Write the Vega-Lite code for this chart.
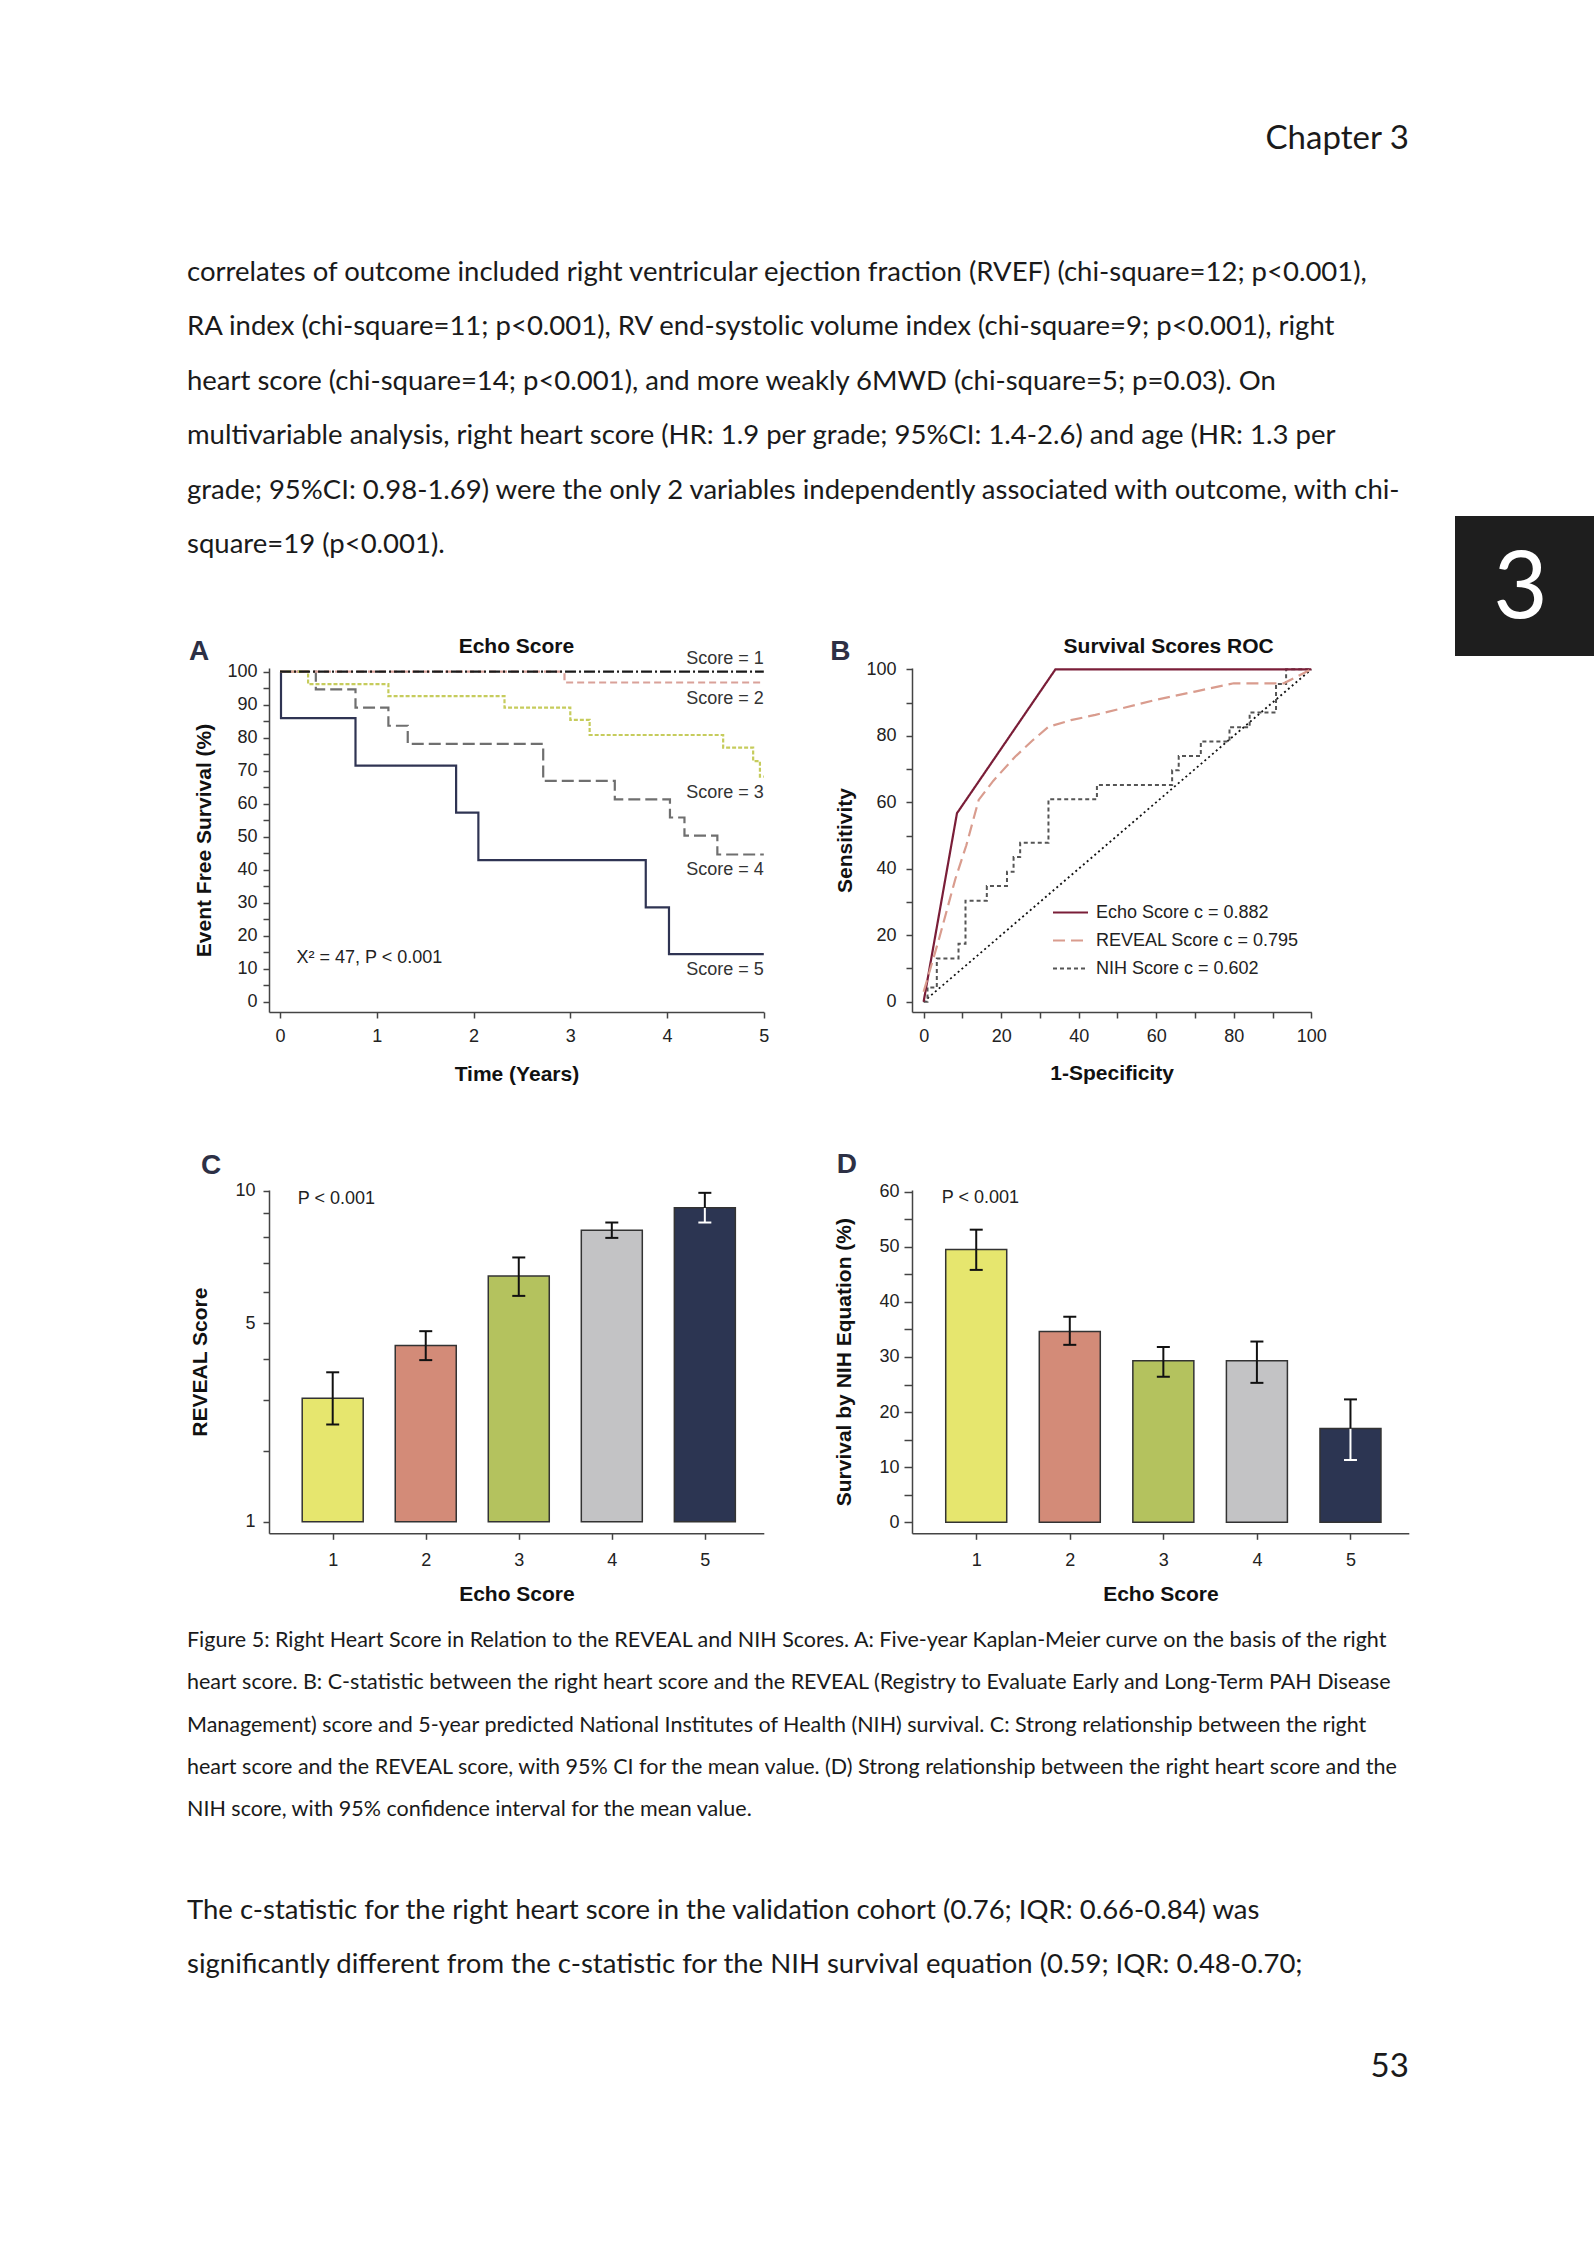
{
  "$schema": "https://vega.github.io/schema/vega-lite/v6.json",
  "padding": 0,
  "background": "white",
  "spacing": 0,
  "bounds": "flush",
  "columns": 7,
  "align": "each",
  "resolve": {"scale": {"color": "independent", "strokeDash": "independent", "fill": "independent"}, "legend": {"color": "independent", "strokeDash": "independent", "fill": "independent"}},
  "config": {
    "view": {"stroke": null},
    "concat": {"spacing": 0},
    "axis": {"labelFont": "Liberation Sans", "labelFontSize": 18, "labelColor": "#222", "titleFont": "Liberation Sans", "titleFontSize": 21, "titleFontWeight": "bold", "titleColor": "#111", "domainColor": "#444", "domainWidth": 1.5, "tickColor": "#444", "tickWidth": 1.5, "tickSize": 6, "grid": false, "labelFlush": false, "labelOverlap": false},
    "title": {"font": "Liberation Sans", "fontSize": 21, "fontWeight": "bold", "color": "#111", "anchor": "middle"},
    "text": {"font": "Liberation Sans", "color": "#222"}
  },
  "datasets": {
    "blank": [{}],
    "km": [
      {"score": 5, "t": 0, "s": 100}, {"score": 5, "t": 0.01, "s": 85.9}, {"score": 5, "t": 0.78, "s": 71.5}, {"score": 5, "t": 1.82, "s": 57.3}, {"score": 5, "t": 2.05, "s": 42.9}, {"score": 5, "t": 3.78, "s": 28.6}, {"score": 5, "t": 4.02, "s": 14.4}, {"score": 5, "t": 5, "s": 14.4},
      {"score": 4, "t": 0, "s": 100}, {"score": 4, "t": 0.37, "s": 94.6}, {"score": 4, "t": 0.78, "s": 89.1}, {"score": 4, "t": 1.12, "s": 83.6}, {"score": 4, "t": 1.32, "s": 78.1}, {"score": 4, "t": 2.72, "s": 66.9}, {"score": 4, "t": 3.46, "s": 61.3}, {"score": 4, "t": 4.03, "s": 55.8}, {"score": 4, "t": 4.18, "s": 50.3}, {"score": 4, "t": 4.52, "s": 44.6}, {"score": 4, "t": 5, "s": 44.6},
      {"score": 3, "t": 0, "s": 100}, {"score": 3, "t": 0.29, "s": 96.2}, {"score": 3, "t": 1.12, "s": 92.6}, {"score": 3, "t": 2.32, "s": 89.1}, {"score": 3, "t": 3.0, "s": 85.4}, {"score": 3, "t": 3.2, "s": 80.8}, {"score": 3, "t": 4.58, "s": 77.0}, {"score": 3, "t": 4.89, "s": 72.9}, {"score": 3, "t": 4.96, "s": 68.2}, {"score": 3, "t": 5, "s": 68.2},
      {"score": 2, "t": 0, "s": 100}, {"score": 2, "t": 2.94, "s": 96.7}, {"score": 2, "t": 5, "s": 96.7},
      {"score": 1, "t": 0, "s": 100}, {"score": 1, "t": 5, "s": 100}
    ],
    "roc": [
      {"series": "Echo Score c = 0.882", "x": 0, "y": 0}, {"series": "Echo Score c = 0.882", "x": 8.6, "y": 56.7}, {"series": "Echo Score c = 0.882", "x": 34, "y": 100}, {"series": "Echo Score c = 0.882", "x": 100, "y": 100},
      {"series": "REVEAL Score c = 0.795", "x": 0, "y": 3}, {"series": "REVEAL Score c = 0.795", "x": 4, "y": 19}, {"series": "REVEAL Score c = 0.795", "x": 8.2, "y": 37}, {"series": "REVEAL Score c = 0.795", "x": 11, "y": 47}, {"series": "REVEAL Score c = 0.795", "x": 14.2, "y": 60.7}, {"series": "REVEAL Score c = 0.795", "x": 18, "y": 66.5}, {"series": "REVEAL Score c = 0.795", "x": 23.6, "y": 73.7}, {"series": "REVEAL Score c = 0.795", "x": 28, "y": 78.5}, {"series": "REVEAL Score c = 0.795", "x": 32.2, "y": 82.7}, {"series": "REVEAL Score c = 0.795", "x": 38, "y": 84.7}, {"series": "REVEAL Score c = 0.795", "x": 44.3, "y": 86.3}, {"series": "REVEAL Score c = 0.795", "x": 52, "y": 88.5}, {"series": "REVEAL Score c = 0.795", "x": 59.8, "y": 90.8}, {"series": "REVEAL Score c = 0.795", "x": 70, "y": 93.3}, {"series": "REVEAL Score c = 0.795", "x": 80, "y": 95.8}, {"series": "REVEAL Score c = 0.795", "x": 92.9, "y": 95.8}, {"series": "REVEAL Score c = 0.795", "x": 100, "y": 100},
      {"series": "NIH Score c = 0.602", "x": 0, "y": 0}, {"series": "NIH Score c = 0.602", "x": 1, "y": 4.3}, {"series": "NIH Score c = 0.602", "x": 3.4, "y": 13}, {"series": "NIH Score c = 0.602", "x": 9, "y": 17.4}, {"series": "NIH Score c = 0.602", "x": 10.8, "y": 30.4}, {"series": "NIH Score c = 0.602", "x": 16.3, "y": 34.8}, {"series": "NIH Score c = 0.602", "x": 21.5, "y": 39.1}, {"series": "NIH Score c = 0.602", "x": 23.2, "y": 43.5}, {"series": "NIH Score c = 0.602", "x": 24.9, "y": 47.8}, {"series": "NIH Score c = 0.602", "x": 32.2, "y": 60.9}, {"series": "NIH Score c = 0.602", "x": 44.7, "y": 65.2}, {"series": "NIH Score c = 0.602", "x": 64.1, "y": 69.6}, {"series": "NIH Score c = 0.602", "x": 65.8, "y": 73.9}, {"series": "NIH Score c = 0.602", "x": 71.5, "y": 78.3}, {"series": "NIH Score c = 0.602", "x": 78.9, "y": 82.6}, {"series": "NIH Score c = 0.602", "x": 84.1, "y": 87}, {"series": "NIH Score c = 0.602", "x": 90.9, "y": 95.6}, {"series": "NIH Score c = 0.602", "x": 93.5, "y": 100}, {"series": "NIH Score c = 0.602", "x": 100, "y": 100}
    ],
    "reveal": [
      {"score": 1, "mean": 3.04, "lo": 2.49, "hi": 3.65},
      {"score": 2, "mean": 4.35, "lo": 3.96, "hi": 4.76},
      {"score": 3, "mean": 6.54, "lo": 5.86, "hi": 7.22},
      {"score": 4, "mean": 8.29, "lo": 7.98, "hi": 8.61},
      {"score": 5, "mean": 9.24, "lo": 8.61, "hi": 9.91}
    ],
    "nih": [
      {"score": 1, "mean": 49.5, "lo": 45.8, "hi": 53.1},
      {"score": 2, "mean": 34.6, "lo": 32.2, "hi": 37.3},
      {"score": 3, "mean": 29.3, "lo": 26.4, "hi": 31.8},
      {"score": 4, "mean": 29.3, "lo": 25.3, "hi": 32.8},
      {"score": 5, "mean": 17.0, "lo": 11.3, "hi": 22.3}
    ]
  },
  "concat": [
    {"width": 186.5, "height": 516, "data": {"name": "blank"}, "mark": "text", "encoding": {"text": {"value": ""}}},
    {
      "width": 81.8, "height": 516,
      "data": {"values": [
        {"line": 1, "text": "correlates of outcome included right ventricular ejection fraction (RVEF) (chi-square=12; p<0.001),"},
        {"line": 2, "text": "RA index (chi-square=11; p<0.001), RV end-systolic volume index (chi-square=9; p<0.001), right"},
        {"line": 3, "text": "heart score (chi-square=14; p<0.001), and more weakly 6MWD (chi-square=5; p=0.03). On"},
        {"line": 4, "text": "multivariable analysis, right heart score (HR: 1.9 per grade; 95%CI: 1.4-2.6) and age (HR: 1.3 per"},
        {"line": 5, "text": "grade; 95%CI: 0.98-1.69) were the only 2 variables independently associated with outcome, with chi-"},
        {"line": 6, "text": "square=19 (p<0.001)."}
      ]},
      "mark": {"type": "text", "align": "left", "baseline": "middle", "font": "Lato", "fontSize": 27.5, "color": "#1a1a1a"},
      "encoding": {
        "x": {"datum": 0, "type": "quantitative", "scale": {"domain": [0, 1], "nice": false, "zero": false}, "axis": null},
        "y": {"field": "line", "type": "quantitative", "scale": {"domain": [1, 6], "range": [272.7, 545.3], "nice": false, "zero": false}, "axis": null},
        "text": {"field": "text"}
      }
    },
    {"width": 494.8, "height": 516, "data": {"name": "blank"}, "mark": "text", "encoding": {"text": {"value": ""}}},
    {"width": 147.2, "height": 516, "data": {"name": "blank"}, "mark": "text", "encoding": {"text": {"value": ""}}},
    {
      "width": 496.8, "height": 516,
      "data": {"values": [{"text": "Chapter 3"}]},
      "mark": {"type": "text", "align": "right", "baseline": "middle", "font": "Lato", "fontSize": 33, "color": "#1a1a1a"},
      "encoding": {
        "x": {"datum": 1, "type": "quantitative", "scale": {"domain": [0, 1], "nice": false, "zero": false}, "axis": null},
        "y": {"datum": -1.45, "type": "quantitative", "scale": {"domain": [1, 6], "range": [272.7, 545.3], "nice": false, "zero": false}, "axis": null},
        "text": {"field": "text"}
      }
    },
    {"width": 45.9, "height": 516, "data": {"name": "blank"}, "mark": "text", "encoding": {"text": {"value": ""}}},
    {"width": 141, "height": 516, "data": {"name": "blank"}, "mark": "text", "encoding": {"text": {"value": ""}}},

    {"width": 186.5, "height": 140, "data": {"name": "blank"}, "mark": "text", "encoding": {"text": {"value": ""}}},
    {"width": 81.8, "height": 140, "data": {"name": "blank"}, "mark": "text", "encoding": {"text": {"value": ""}}},
    {"width": 494.8, "height": 140, "data": {"name": "blank"}, "mark": "text", "encoding": {"text": {"value": ""}}},
    {"width": 147.2, "height": 140, "data": {"name": "blank"}, "mark": "text", "encoding": {"text": {"value": ""}}},
    {"width": 496.8, "height": 140, "data": {"name": "blank"}, "mark": "text", "encoding": {"text": {"value": ""}}},
    {"width": 45.9, "height": 140, "data": {"name": "blank"}, "mark": "text", "encoding": {"text": {"value": ""}}},
    {
      "width": 141, "height": 140,
      "view": {"fill": "#1e1e1e", "stroke": null},
      "data": {"values": [{"text": "3"}]},
      "mark": {"type": "text", "font": "Lato", "fontSize": 94, "color": "white", "align": "center", "baseline": "middle", "dx": -5, "dy": 4},
      "encoding": {"text": {"field": "text"}}
    },

    {"width": 186.5, "height": 12, "data": {"name": "blank"}, "mark": "text", "encoding": {"text": {"value": ""}}},
    {"width": 81.8, "height": 12, "data": {"name": "blank"}, "mark": "text", "encoding": {"text": {"value": ""}}},
    {"width": 494.8, "height": 12, "data": {"name": "blank"}, "mark": "text", "encoding": {"text": {"value": ""}}},
    {"width": 147.2, "height": 12, "data": {"name": "blank"}, "mark": "text", "encoding": {"text": {"value": ""}}},
    {"width": 496.8, "height": 12, "data": {"name": "blank"}, "mark": "text", "encoding": {"text": {"value": ""}}},
    {"width": 45.9, "height": 12, "data": {"name": "blank"}, "mark": "text", "encoding": {"text": {"value": ""}}},
    {"width": 141, "height": 12, "data": {"name": "blank"}, "mark": "text", "encoding": {"text": {"value": ""}}},

    {"width": 186.5, "height": 344, "data": {"name": "blank"}, "mark": "text", "encoding": {"text": {"value": ""}}},
    {"width": 81.8, "height": 344, "data": {"name": "blank"}, "mark": "text", "encoding": {"text": {"value": ""}}},
    {
      "width": 494.8, "height": 344,
      "title": {"text": "Echo Score", "offset": 11, "dy": 30},
      "layer": [
        {
          "data": {"name": "km"},
          "mark": {"type": "line", "interpolate": "step-after", "strokeWidth": 2.2},
          "encoding": {
            "x": {"field": "t", "type": "quantitative", "scale": {"domain": [-0.114, 5], "nice": false, "zero": false}, "axis": {"title": "Time (Years)", "values": [0, 1, 2, 3, 4, 5], "tickCount": 50, "format": "d", "labelPadding": 9, "titlePadding": 18, "labelOverlap": false, "labelFlush": false}},
            "y": {"field": "s", "type": "quantitative", "scale": {"domain": [-3.12, 101.1], "nice": false, "zero": false}, "axis": {"title": "Event Free Survival (%)", "values": [0, 5, 10, 15, 20, 25, 30, 35, 40, 45, 50, 55, 60, 65, 70, 75, 80, 85, 90, 95, 100], "tickCount": 50, "format": "d", "labelExpr": "datum.value % 10 === 0 ? datum.label : ''", "labelPadding": 6, "titlePadding": 12, "labelOverlap": false}},
            "color": {"field": "score", "type": "nominal", "scale": {"domain": [1, 2, 3, 4, 5], "range": ["#1a1a1a", "#d9a199", "#c6cc5c", "#6f6f6f", "#2f3453"]}, "legend": null},
            "strokeDash": {"field": "score", "type": "nominal", "scale": {"domain": [1, 2, 3, 4, 5], "range": [[11, 3, 2, 3], [7, 4], [4, 2], [12, 5], [1, 0]]}, "legend": null}
          }
        },
        {
          "data": {"name": "km"},
          "transform": [{"filter": "datum.t == 5 && datum.score != 1"}, {"calculate": "'Score = ' + datum.score", "as": "lab"}],
          "mark": {"type": "text", "align": "right", "baseline": "middle", "dy": 16, "fontSize": 18, "color": "#333"},
          "encoding": {"x": {"field": "t", "type": "quantitative"}, "y": {"field": "s", "type": "quantitative"}, "text": {"field": "lab"}}
        },
        {
          "data": {"name": "km"},
          "transform": [{"filter": "datum.t == 5 && datum.score == 1"}, {"calculate": "'Score = ' + datum.score", "as": "lab"}],
          "mark": {"type": "text", "align": "right", "baseline": "middle", "dy": -13, "fontSize": 18, "color": "#333"},
          "encoding": {"x": {"field": "t", "type": "quantitative"}, "y": {"field": "s", "type": "quantitative"}, "text": {"field": "lab"}}
        },
        {
          "data": {"values": [{"text": "X² = 47, P < 0.001"}]},
          "mark": {"type": "text", "align": "left", "baseline": "middle", "fontSize": 18, "color": "#222"},
          "encoding": {"x": {"datum": 0.17, "type": "quantitative"}, "y": {"datum": 13.1, "type": "quantitative"}, "text": {"field": "text"}}
        },
        {
          "data": {"values": [{"text": "A"}]},
          "mark": {"type": "text", "align": "center", "baseline": "middle", "fontSize": 28, "fontWeight": "bold", "color": "#2d3045"},
          "encoding": {"x": {"datum": -0.836, "type": "quantitative"}, "y": {"datum": 106, "type": "quantitative"}, "text": {"field": "text"}}
        }
      ]
    },
    {"width": 147.2, "height": 344, "data": {"name": "blank"}, "mark": "text", "encoding": {"text": {"value": ""}}},
    {
      "width": 399.3, "height": 344,
      "title": {"text": "Survival Scores ROC", "offset": 11, "dx": 57, "dy": 30},
      "layer": [
        {
          "data": {"values": [{"x": 0, "y": 0}, {"x": 100, "y": 100}]},
          "mark": {"type": "line", "color": "#111", "strokeDash": [2, 3], "strokeWidth": 1.8},
          "encoding": {
            "x": {"field": "x", "type": "quantitative", "scale": {"domain": [-3, 100], "nice": false, "zero": false}, "axis": {"title": "1-Specificity", "values": [0, 10, 20, 30, 40, 50, 60, 70, 80, 90, 100], "tickCount": 50, "format": "d", "labelExpr": "datum.value % 20 === 0 ? datum.label : ''", "labelPadding": 9, "titlePadding": 17, "labelOverlap": false, "labelFlush": false}},
            "y": {"field": "y", "type": "quantitative", "scale": {"domain": [-3.1, 100.4], "nice": false, "zero": false}, "axis": {"title": "Sensitivity", "values": [0, 10, 20, 30, 40, 50, 60, 70, 80, 90, 100], "tickCount": 50, "format": "d", "labelExpr": "datum.value % 20 === 0 ? datum.label : ''", "labelPadding": 10, "titlePadding": 10, "labelOverlap": false}}
          }
        },
        {
          "data": {"name": "roc"},
          "transform": [{"filter": "datum.series == 'NIH Score c = 0.602'"}],
          "mark": {"type": "line", "interpolate": "step-after", "strokeWidth": 2},
          "encoding": {
            "x": {"field": "x", "type": "quantitative"},
            "y": {"field": "y", "type": "quantitative"},
            "color": {"field": "series", "type": "nominal", "scale": {"domain": ["Echo Score c = 0.882", "REVEAL Score c = 0.795", "NIH Score c = 0.602"], "range": ["#7a1e38", "#d99c8e", "#555555"]}, "legend": {"orient": "none", "legendX": 140, "legendY": 226, "title": null, "symbolType": "stroke", "symbolSize": 1225, "symbolStrokeWidth": 2, "labelFontSize": 18, "labelFont": "Liberation Sans", "labelColor": "#222", "labelLimit": 0, "rowPadding": -10.5, "labelOffset": 7, "padding": 0}},
            "strokeDash": {"field": "series", "type": "nominal", "scale": {"domain": ["Echo Score c = 0.882", "REVEAL Score c = 0.795", "NIH Score c = 0.602"], "range": [[1, 0], [12, 6], [4, 3]]}, "legend": {"orient": "none", "legendX": 140, "legendY": 226, "title": null, "symbolType": "stroke", "symbolSize": 1225, "symbolStrokeWidth": 2, "labelFontSize": 18, "labelFont": "Liberation Sans", "labelColor": "#222", "labelLimit": 0, "rowPadding": -10.5, "labelOffset": 7, "padding": 0}}
          }
        },
        {
          "data": {"name": "roc"},
          "transform": [{"filter": "datum.series != 'NIH Score c = 0.602'"}],
          "mark": {"type": "line", "strokeWidth": 2.2},
          "encoding": {
            "x": {"field": "x", "type": "quantitative"},
            "y": {"field": "y", "type": "quantitative"},
            "color": {"field": "series", "type": "nominal"},
            "strokeDash": {"field": "series", "type": "nominal"}
          }
        },
        {
          "data": {"values": [{"text": "B"}]},
          "mark": {"type": "text", "align": "center", "baseline": "middle", "fontSize": 28, "fontWeight": "bold", "color": "#2d3045"},
          "encoding": {"x": {"datum": -21.5, "type": "quantitative"}, "y": {"datum": 105.3, "type": "quantitative"}, "text": {"field": "text"}}
        }
      ]
    },
    {"width": 45.9, "height": 344, "data": {"name": "blank"}, "mark": "text", "encoding": {"text": {"value": ""}}},
    {"width": 141, "height": 344, "data": {"name": "blank"}, "mark": "text", "encoding": {"text": {"value": ""}}},

    {"width": 186.5, "height": 178, "data": {"name": "blank"}, "mark": "text", "encoding": {"text": {"value": ""}}},
    {"width": 81.8, "height": 178, "data": {"name": "blank"}, "mark": "text", "encoding": {"text": {"value": ""}}},
    {"width": 494.8, "height": 178, "data": {"name": "blank"}, "mark": "text", "encoding": {"text": {"value": ""}}},
    {"width": 147.2, "height": 178, "data": {"name": "blank"}, "mark": "text", "encoding": {"text": {"value": ""}}},
    {"width": 496.8, "height": 178, "data": {"name": "blank"}, "mark": "text", "encoding": {"text": {"value": ""}}},
    {"width": 45.9, "height": 178, "data": {"name": "blank"}, "mark": "text", "encoding": {"text": {"value": ""}}},
    {"width": 141, "height": 178, "data": {"name": "blank"}, "mark": "text", "encoding": {"text": {"value": ""}}},

    {"width": 186.5, "height": 343.3, "data": {"name": "blank"}, "mark": "text", "encoding": {"text": {"value": ""}}},
    {"width": 81.8, "height": 343.3, "data": {"name": "blank"}, "mark": "text", "encoding": {"text": {"value": ""}}},
    {
      "width": 494.8, "height": 343.3,
      "data": {"name": "reveal"},
      "layer": [
        {
          "mark": {"type": "bar", "size": 61, "stroke": "#333", "strokeWidth": 1.5},
          "encoding": {
            "x": {"field": "score", "type": "quantitative", "scale": {"domain": [0.369, 5.58], "nice": false, "zero": false}, "axis": {"title": "Echo Score", "values": [1, 2, 3, 4, 5], "tickCount": 50, "format": "d", "labelPadding": 12, "titlePadding": 14, "labelOverlap": false, "labelFlush": false}},
            "y": {"field": "mean", "type": "quantitative", "scale": {"type": "pow", "exponent": 0.39, "domain": [0.874, 10.04], "nice": false, "zero": false}, "axis": {"title": "REVEAL Score", "values": [1, 2, 3, 4, 5, 6, 7, 8, 9, 10], "tickCount": 50, "format": "d", "labelExpr": "datum.value == 1 || datum.value == 5 || datum.value == 10 ? datum.label : ''", "labelPadding": 8, "titlePadding": 24, "labelOverlap": false}},
            "y2": {"datum": 1},
            "fill": {"field": "score", "type": "nominal", "scale": {"domain": [1, 2, 3, 4, 5], "range": ["#e6e66e", "#d38b78", "#b4c25e", "#c3c3c5", "#2c3552"]}, "legend": null}
          }
        },
        {
          "mark": {"type": "rule", "strokeWidth": 2},
          "encoding": {"x": {"field": "score", "type": "quantitative"}, "y": {"field": "lo", "type": "quantitative"}, "y2": {"field": "mean"}, "color": {"condition": {"test": "datum.score == 5", "value": "white"}, "value": "#111"}}
        },
        {
          "mark": {"type": "rule", "strokeWidth": 2, "color": "#111"},
          "encoding": {"x": {"field": "score", "type": "quantitative"}, "y": {"field": "mean", "type": "quantitative"}, "y2": {"field": "hi"}}
        },
        {
          "mark": {"type": "tick", "orient": "horizontal", "size": 13, "thickness": 2, "color": "#111", "opacity": 1},
          "encoding": {"x": {"field": "score", "type": "quantitative"}, "y": {"field": "hi", "type": "quantitative"}}
        },
        {
          "mark": {"type": "tick", "orient": "horizontal", "size": 13, "thickness": 2, "opacity": 1},
          "encoding": {"x": {"field": "score", "type": "quantitative"}, "y": {"field": "lo", "type": "quantitative"}, "color": {"condition": {"test": "datum.score == 5", "value": "white"}, "value": "#111"}}
        },
        {
          "data": {"values": [{"text": "P < 0.001"}]},
          "mark": {"type": "text", "align": "left", "baseline": "middle", "fontSize": 18, "color": "#222"},
          "encoding": {"x": {"datum": 0.625, "type": "quantitative"}, "y": {"datum": 9.65, "type": "quantitative"}, "text": {"field": "text"}}
        },
        {
          "data": {"values": [{"text": "C"}]},
          "mark": {"type": "text", "align": "center", "baseline": "middle", "fontSize": 28, "fontWeight": "bold", "color": "#2d3045"},
          "encoding": {"x": {"datum": -0.308, "type": "quantitative"}, "y": {"datum": 11.2, "type": "quantitative"}, "text": {"field": "text"}}
        }
      ]
    },
    {"width": 147.2, "height": 343.3, "data": {"name": "blank"}, "mark": "text", "encoding": {"text": {"value": ""}}},
    {
      "width": 496.8, "height": 343.3,
      "data": {"name": "nih"},
      "layer": [
        {
          "mark": {"type": "bar", "size": 61, "stroke": "#333", "strokeWidth": 1.5},
          "encoding": {
            "x": {"field": "score", "type": "quantitative", "scale": {"domain": [0.367, 5.57], "nice": false, "zero": false}, "axis": {"title": "Echo Score", "values": [1, 2, 3, 4, 5], "tickCount": 50, "format": "d", "labelPadding": 12, "titlePadding": 14, "labelOverlap": false, "labelFlush": false}},
            "y": {"field": "mean", "type": "quantitative", "scale": {"domain": [-2, 60.3], "nice": false, "zero": false}, "axis": {"title": "Survival by NIH Equation (%)", "values": [0, 5, 10, 15, 20, 25, 30, 35, 40, 45, 50, 55, 60], "tickCount": 50, "format": "d", "labelExpr": "datum.value % 10 === 0 ? datum.label : ''", "labelPadding": 5, "tickSize": 8, "titlePadding": 24, "labelOverlap": false}},
            "y2": {"datum": 0},
            "fill": {"field": "score", "type": "nominal", "scale": {"domain": [1, 2, 3, 4, 5], "range": ["#e6e66e", "#d38b78", "#b4c25e", "#c3c3c5", "#2c3552"]}, "legend": null}
          }
        },
        {
          "mark": {"type": "rule", "strokeWidth": 2},
          "encoding": {"x": {"field": "score", "type": "quantitative"}, "y": {"field": "lo", "type": "quantitative"}, "y2": {"field": "mean"}, "color": {"condition": {"test": "datum.score == 5", "value": "white"}, "value": "#111"}}
        },
        {
          "mark": {"type": "rule", "strokeWidth": 2, "color": "#111"},
          "encoding": {"x": {"field": "score", "type": "quantitative"}, "y": {"field": "mean", "type": "quantitative"}, "y2": {"field": "hi"}}
        },
        {
          "mark": {"type": "tick", "orient": "horizontal", "size": 13, "thickness": 2, "color": "#111", "opacity": 1},
          "encoding": {"x": {"field": "score", "type": "quantitative"}, "y": {"field": "hi", "type": "quantitative"}}
        },
        {
          "mark": {"type": "tick", "orient": "horizontal", "size": 13, "thickness": 2, "opacity": 1},
          "encoding": {"x": {"field": "score", "type": "quantitative"}, "y": {"field": "lo", "type": "quantitative"}, "color": {"condition": {"test": "datum.score == 5", "value": "white"}, "value": "#111"}}
        },
        {
          "data": {"values": [{"text": "P < 0.001"}]},
          "mark": {"type": "text", "align": "left", "baseline": "middle", "fontSize": 18, "color": "#222"},
          "encoding": {"x": {"datum": 0.631, "type": "quantitative"}, "y": {"datum": 58.8, "type": "quantitative"}, "text": {"field": "text"}}
        },
        {
          "data": {"values": [{"text": "D"}]},
          "mark": {"type": "text", "align": "center", "baseline": "middle", "fontSize": 28, "fontWeight": "bold", "color": "#2d3045"},
          "encoding": {"x": {"datum": -0.384, "type": "quantitative"}, "y": {"datum": 64.8, "type": "quantitative"}, "text": {"field": "text"}}
        }
      ]
    },
    {"width": 45.9, "height": 343.3, "data": {"name": "blank"}, "mark": "text", "encoding": {"text": {"value": ""}}},
    {"width": 141, "height": 343.3, "data": {"name": "blank"}, "mark": "text", "encoding": {"text": {"value": ""}}},

    {"width": 186.5, "height": 716.7, "data": {"name": "blank"}, "mark": "text", "encoding": {"text": {"value": ""}}},
    {
      "width": 81.8, "height": 716.7,
      "resolve": {"scale": {"y": "independent"}},
      "layer": [
        {
          "data": {"values": [
            {"line": 1, "text": "Figure 5: Right Heart Score in Relation to the REVEAL and NIH Scores. A: Five-year Kaplan-Meier curve on the basis of the right"},
            {"line": 2, "text": "heart score. B: C-statistic between the right heart score and the REVEAL (Registry to Evaluate Early and Long-Term PAH Disease"},
            {"line": 3, "text": "Management) score and 5-year predicted National Institutes of Health (NIH) survival. C: Strong relationship between the right"},
            {"line": 4, "text": "heart score and the REVEAL score, with 95% CI for the mean value. (D) Strong relationship between the right heart score and the"},
            {"line": 5, "text": "NIH score, with 95% confidence interval for the mean value."}
          ]},
          "mark": {"type": "text", "align": "left", "baseline": "middle", "font": "Lato", "fontSize": 21.5, "color": "#1a1a1a"},
          "encoding": {
            "x": {"datum": 0, "type": "quantitative", "scale": {"domain": [0, 1], "nice": false, "zero": false}, "axis": null},
            "y": {"field": "line", "type": "quantitative", "scale": {"domain": [1, 5], "range": [106.7, 276.3], "nice": false, "zero": false}, "axis": null},
            "text": {"field": "text"}
          }
        },
        {
          "data": {"values": [
            {"line": 1, "text": "The c-statistic for the right heart score in the validation cohort (0.76; IQR: 0.66-0.84) was"},
            {"line": 2, "text": "significantly different from the c-statistic for the NIH survival equation (0.59; IQR: 0.48-0.70;"}
          ]},
          "mark": {"type": "text", "align": "left", "baseline": "middle", "font": "Lato", "fontSize": 27.5, "color": "#1a1a1a"},
          "encoding": {
            "x": {"datum": 0, "type": "quantitative"},
            "y": {"field": "line", "type": "quantitative", "scale": {"domain": [1, 2], "range": [376.7, 431.2], "nice": false, "zero": false}, "axis": null},
            "text": {"field": "text"}
          }
        }
      ]
    },
    {"width": 494.8, "height": 716.7, "data": {"name": "blank"}, "mark": "text", "encoding": {"text": {"value": ""}}},
    {"width": 147.2, "height": 716.7, "data": {"name": "blank"}, "mark": "text", "encoding": {"text": {"value": ""}}},
    {
      "width": 496.8, "height": 716.7,
      "data": {"values": [{"text": "53"}]},
      "mark": {"type": "text", "align": "right", "baseline": "middle", "font": "Lato", "fontSize": 33, "color": "#1a1a1a"},
      "encoding": {
        "x": {"datum": 1, "type": "quantitative", "scale": {"domain": [0, 1], "nice": false, "zero": false}, "axis": null},
        "y": {"datum": 3.86, "type": "quantitative", "scale": {"domain": [1, 2], "range": [376.7, 431.2], "nice": false, "zero": false}, "axis": null},
        "text": {"field": "text"}
      }
    },
    {"width": 45.9, "height": 716.7, "data": {"name": "blank"}, "mark": "text", "encoding": {"text": {"value": ""}}},
    {"width": 141, "height": 716.7, "data": {"name": "blank"}, "mark": "text", "encoding": {"text": {"value": ""}}}
  ]
}
